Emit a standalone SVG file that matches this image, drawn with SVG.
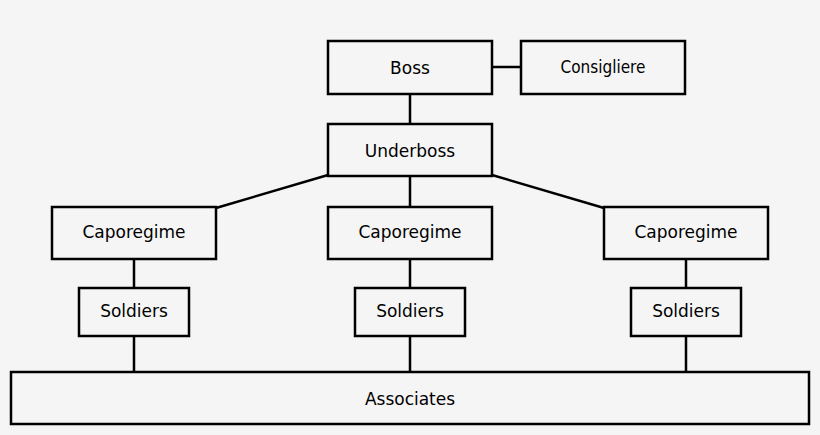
<svg xmlns="http://www.w3.org/2000/svg" width="820" height="435" viewBox="0 0 820 435">
<style>
rect.n{fill:#f5f5f5;stroke:#000;stroke-width:2.5}
text{font-family:"DejaVu Sans",sans-serif;font-size:17px;text-anchor:middle;fill:#000}
.c line{stroke:#000;stroke-width:2.5}
</style>
<rect width="820" height="435" fill="#f5f5f5"/>
<g class="c">
<line x1="492" y1="67" x2="521" y2="67"/>
<line x1="410" y1="94" x2="410" y2="124"/>
<line x1="410" y1="176" x2="410" y2="207"/>
<line x1="328" y1="175" x2="216" y2="208"/>
<line x1="492" y1="175" x2="604" y2="208"/>
<line x1="134" y1="259" x2="134" y2="288"/>
<line x1="410" y1="259" x2="410" y2="288"/>
<line x1="686" y1="259" x2="686" y2="288"/>
<line x1="134" y1="336" x2="134" y2="372"/>
<line x1="410" y1="336" x2="410" y2="372"/>
<line x1="686" y1="336" x2="686" y2="372"/>
</g>
<g id="boss"><rect class="n" x="328" y="41" width="164" height="53"/><text x="410" y="74">Boss</text></g>
<g id="consigliere"><rect class="n" x="521" y="41" width="164" height="53"/><text x="603" y="73" style="font-family:'DejaVu Sans Condensed','DejaVu Sans',sans-serif">Consigliere</text></g>
<g id="underboss"><rect class="n" x="328" y="124" width="164" height="52"/><text x="410" y="157">Underboss</text></g>
<g id="capo1"><rect class="n" x="52" y="207" width="164" height="52"/><text x="134" y="238">Caporegime</text></g>
<g id="capo2"><rect class="n" x="328" y="207" width="164" height="52"/><text x="410" y="238">Caporegime</text></g>
<g id="capo3"><rect class="n" x="604" y="207" width="164" height="52"/><text x="686" y="238">Caporegime</text></g>
<g id="soldiers1"><rect class="n" x="79" y="288" width="110" height="48"/><text x="134" y="317">Soldiers</text></g>
<g id="soldiers2"><rect class="n" x="355" y="288" width="110" height="48"/><text x="410" y="317">Soldiers</text></g>
<g id="soldiers3"><rect class="n" x="631" y="288" width="110" height="48"/><text x="686" y="317">Soldiers</text></g>
<g id="associates"><rect class="n" x="11" y="372" width="798" height="52"/><text x="410" y="405">Associates</text></g>
</svg>
